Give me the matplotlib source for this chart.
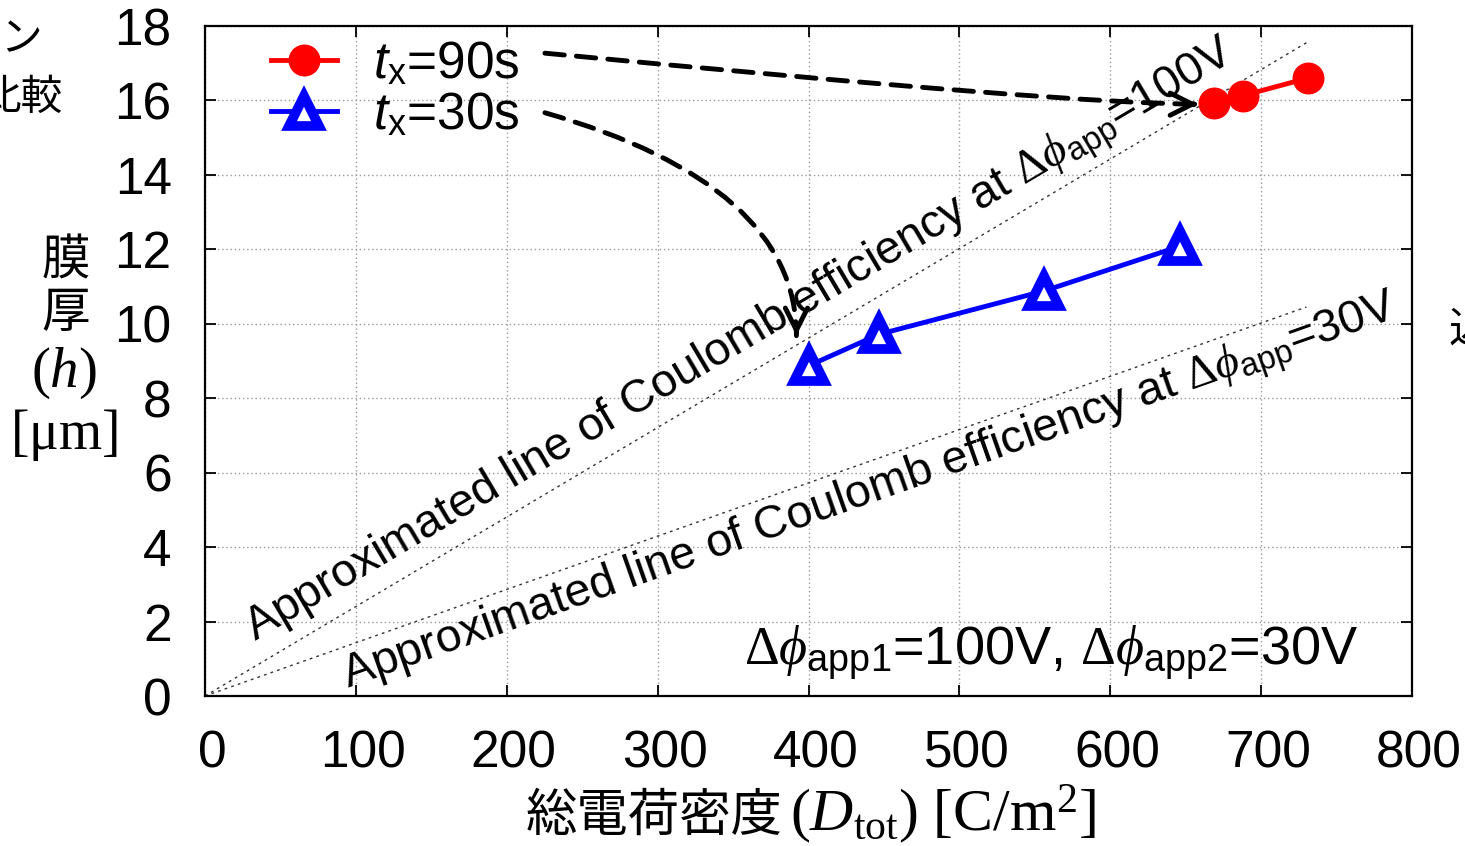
import numpy as np
import matplotlib
matplotlib.use("Agg")
import matplotlib.pyplot as plt
from matplotlib.transforms import ScaledTranslation

plt.rcParams.update({
    "font.family": ["Liberation Sans", "Noto Sans CJK JP", "DejaVu Sans"],
    "mathtext.fontset": "custom",
    "mathtext.rm": "Liberation Serif",
    "mathtext.it": "Liberation Serif:italic",
    "mathtext.sf": "Liberation Sans",
    "mathtext.cal": "Liberation Sans:italic",
})

# ---------------------------------------------------------------- data
D_90 = [669, 688, 731]
H_90 = [15.94, 16.13, 16.6]
D_30 = [400, 447, 556, 646]
H_30 = [8.87, 9.72, 10.88, 12.08]

FIT_D = [0, 730]
FIT_100V = [0, 17.55]
FIT_30V = [0, 10.45]

X_TICKS = [0, 100, 200, 300, 400, 500, 600, 700, 800]
Y_TICKS = [0, 2, 4, 6, 8, 10, 12, 14, 16, 18]

CJK = ["Noto Sans CJK JP", "DejaVu Sans"]
FS = 37

fig = plt.figure(figsize=(14.65, 8.46), dpi=100)
ax = fig.add_axes([205 / 1465, 1 - 696 / 846, 1207 / 1465, 670 / 846])
ax.set_xlim(0, 800)
ax.set_ylim(0, 18)

ax.plot(FIT_D, FIT_100V, ls=(0, (2, 3)), color="#333333", lw=1.0, zorder=2)
ax.plot(FIT_D, FIT_30V, ls=(0, (2, 3)), color="#333333", lw=1.0, zorder=2)

l90, = ax.plot(D_90, H_90, color="#ff0000", lw=3.5, marker="o", ms=22,
               zorder=5, label=r"$\mathcal{t}_{\mathsf{x}}$=90s")
l30, = ax.plot(D_30, H_30, color="#0000ff", lw=3.5, marker="^", ms=22,
               mfc="white", mew=7, zorder=5,
               label=r"$\mathcal{t}_{\mathsf{x}}$=30s")

ax.set_xticks(X_TICKS)
ax.set_yticks(Y_TICKS)
ax.tick_params(direction="in", length=8, width=1.3, labelsize=FS,
               top=True, right=True)
ax.tick_params(axis="x", pad=24)
ax.tick_params(axis="y", pad=24)
shift = ScaledTranslation(7 / 100, 0, fig.dpi_scale_trans)
for lab in ax.get_xticklabels():
    lab.set_transform(lab.get_transform() + shift)
for s in ax.spines.values():
    s.set_linewidth(1.6)
ax.grid(True, ls=(0, (1, 2)), color="#999999", lw=1.0, zorder=0)

ax.legend(handles=[l90, l30], loc="upper left",
          bbox_to_anchor=(0.038, 1.01), frameon=False, fontsize=FS,
          handlelength=1.27, handletextpad=0.7, labelspacing=0.05,
          borderaxespad=0)

# rotated labels along the fit lines
def line_angle(xs, ys):
    p = ax.transData.transform(np.column_stack([xs, ys]))
    return np.degrees(np.arctan2(p[1, 1] - p[0, 1], p[1, 0] - p[0, 0]))

ax.text(33, 1.45, r"Approximated line of Coulomb efficiency at $\Delta\phi_{\mathsf{app}}$=100V",
        rotation=line_angle(FIT_D, FIT_100V), rotation_mode="anchor",
        ha="left", va="baseline", fontsize=33.5, zorder=4)
ax.text(95, 0.2, r"Approximated line of Coulomb efficiency at $\Delta\phi_{\mathsf{app}}$=30V",
        rotation=line_angle(FIT_D, FIT_30V), rotation_mode="anchor",
        ha="left", va="baseline", fontsize=33.5, zorder=4)

ax.text(357, 0.85, r"$\Delta\phi_{\mathsf{app1}}$=100V, $\Delta\phi_{\mathsf{app2}}$=30V",
        ha="left", va="baseline", fontsize=39)

# dashed curved arrows from the legend to the curves
def curved_arrow(start, end, angA, angB, tail):
    ax.annotate("", xy=end, xytext=start,
                arrowprops=dict(arrowstyle="-", ls=(0, (4, 2.5)), lw=3.5,
                                color="black", shrinkA=0, shrinkB=0,
                                connectionstyle=f"angle3,angleA={angA},angleB={angB}"))
    ax.annotate("", xy=end, xytext=tail,
                arrowprops=dict(arrowstyle="->,head_length=1.6,head_width=0.8",
                                lw=3.5, color="black", shrinkA=0, shrinkB=0))

curved_arrow((225.3, 17.27), (658, 15.9), -5.5, 0, (655, 15.9))
curved_arrow((225.3, 15.67), (392, 9.68), -16, 90, (392, 9.8))

# axis labels
fig.text(783 / 1465, 1 - 831 / 846, "総電荷密度", ha="right", va="baseline",
         fontsize=FS, family=CJK)
fig.text(790 / 1465, 1 - 831 / 846, r"$(D_{\mathrm{tot}})\ [\mathrm{C/m^2}]$",
         ha="left", va="baseline", fontsize=43)
fig.text(66 / 1465, 1 - 261 / 846, "膜", ha="center", va="center",
         fontsize=35, family=CJK)
fig.text(66 / 1465, 1 - 313 / 846, "厚", ha="center", va="center",
         fontsize=35, family=CJK)
fig.text(64 / 1465, 1 - 373 / 846, r"$(h)$", ha="center", va="center",
         fontsize=41)
fig.text(64 / 1465, 1 - 435 / 846, r"$[\mathrm{μm}]$", ha="center",
         va="center", fontsize=40)

# fragments of neighbouring slide text, cut by the frame
fig.text(42 / 1465, 1 - 40 / 846, "ン", ha="right", va="center",
         fontsize=30, family=CJK)
fig.text(63 / 1465, 1 - 98 / 846, "比較", ha="right", va="center",
         fontsize=30, family=CJK)
fig.text(1449 / 1465, 1 - 330 / 846, "込", ha="left", va="center",
         fontsize=30, family=CJK)

fig.savefig("out.png", dpi=100)
